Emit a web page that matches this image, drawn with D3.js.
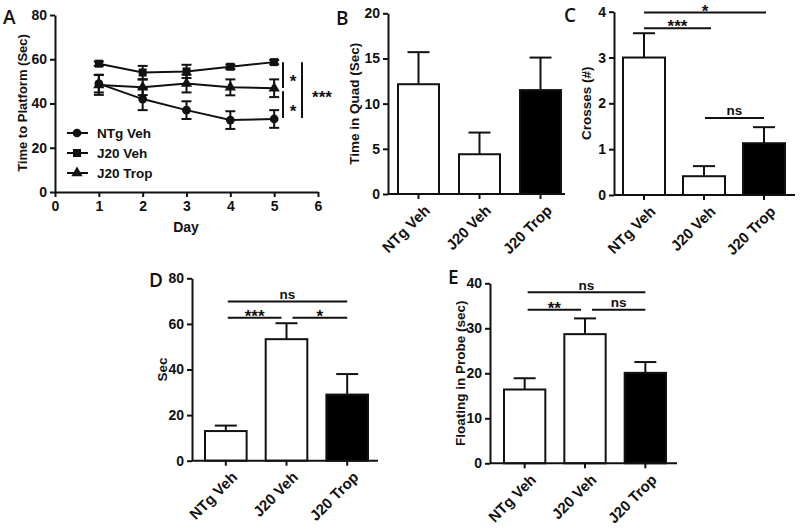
<!DOCTYPE html>
<html><head><meta charset="utf-8">
<script src="https://cdn.jsdelivr.net/npm/d3@7"></script>
<style>body{margin:0;background:#fff}text{font-family:"Liberation Sans",Arial,sans-serif;font-weight:bold;fill:#111}</style>
</head><body><svg id="c" width="800" height="529" style="display:block"></svg>
<script>
// ---- Data ----
const days = [1, 2, 3, 4, 5];
const dayTicks = [0, 1, 2, 3, 4, 5, 6];
const platformTicks = [0, 20, 40, 60, 80];
const ntgVehMean = [49, 42, 37, 32.5, 33];
const ntgVehErr = [4, 5, 4, 4, 4];
const j20VehMean = [58, 54, 54.5, 56.6, 58.7];
const j20VehErr = [1, 3, 3, 1, 1];
const j20TropMean = [48.4, 47.3, 49, 47.3, 46.9];
const j20TropErr = [4.5, 3.5, 4, 3.6, 4];
const seriesNames = ["NTg Veh", "J20 Veh", "J20 Trop"];

const groups = ["NTg Veh", "J20 Veh", "J20 Trop"];
const quadMean = [12.15, 4.4, 11.5];
const quadErr = [3.55, 2.4, 3.6];
const quadTicks = [0, 5, 10, 15, 20];
const crossMean = [3.0, 0.41, 1.13];
const crossErr = [0.53, 0.22, 0.35];
const crossTicks = [0, 1, 2, 3, 4];
const secMean = [13.0, 53.3, 29.0];
const secErr = [2.4, 7.0, 9.0];
const secTicks = [0, 20, 40, 60, 80];
const floatMean = [16.4, 28.7, 20.1];
const floatErr = [2.5, 3.5, 2.4];
const floatTicks = [0, 10, 20, 30, 40];
const barFills = ["#fff", "#fff", "#000"];

const svg = d3.select("#c");
const SW = 2;
const fmt = d3.format("d");

function letter(t, x, y) {
  svg.append("text").attr("x", x).attr("y", y).text(t)
    .style("font-family", "'Open Sans',sans-serif").style("font-weight", "600").style("font-size", "19px");
}

function styleAxis(g) {
  g.selectAll("path,line").attr("stroke", "#111").attr("stroke-width", SW);
  g.selectAll("text").style("font-size", "14px").style("fill", "#111");
}

// place a significance label by its visual centre
function sigText(xx, cy, t) {
  const isNs = t === "ns";
  svg.append("text").attr("x", xx).attr("y", isNs ? cy + 3.5 : cy + 9.6)
    .attr("text-anchor", "middle").style("font-size", isNs ? "13.5px" : "17px").text(t);
}

// ---- Panel A ----
(function () {
  const x = d3.scaleLinear().domain([0, 6]).range([55, 318]);
  const y = d3.scaleLinear().domain([0, 80]).range([192, 15]);
  const gy = svg.append("g").attr("transform", "translate(55,0)")
    .call(d3.axisLeft(y).tickValues(platformTicks).tickFormat(fmt).tickSize(5).tickSizeOuter(0).tickPadding(3));
  styleAxis(gy);
  const gx = svg.append("g").attr("transform", "translate(0,192)")
    .call(d3.axisBottom(x).tickValues(dayTicks).tickFormat(fmt).tickSize(5).tickSizeOuter(0).tickPadding(4));
  styleAxis(gx);
  svg.append("text").attr("transform", "translate(27,103) rotate(-90)").attr("text-anchor", "middle")
    .style("font-size", "13px").text("Time to Platform (Sec)");
  svg.append("text").attr("x", 186).attr("y", 232).attr("text-anchor", "middle")
    .style("font-size", "14px").text("Day");

  const series = [
    {name: seriesNames[0], m: ntgVehMean, e: ntgVehErr, sym: d3.symbolCircle, size: 60},
    {name: seriesNames[1], m: j20VehMean, e: j20VehErr, sym: d3.symbolSquare, size: 64},
    {name: seriesNames[2], m: j20TropMean, e: j20TropErr, sym: d3.symbolTriangle, size: 55}
  ];
  const line = d3.line().x((d, i) => x(days[i])).y(d => y(d));
  series.forEach(s => {
    svg.append("path").attr("d", line(s.m)).attr("fill", "none").attr("stroke", "#111").attr("stroke-width", SW);
    const g = svg.append("g");
    s.m.forEach((v, i) => {
      const cx = x(days[i]);
      g.append("line").attr("x1", cx).attr("x2", cx).attr("y1", y(v - s.e[i])).attr("y2", y(v + s.e[i]))
        .attr("stroke", "#111").attr("stroke-width", SW);
      [v - s.e[i], v + s.e[i]].forEach(w => g.append("line").attr("x1", cx - 5).attr("x2", cx + 5)
        .attr("y1", y(w)).attr("y2", y(w)).attr("stroke", "#111").attr("stroke-width", SW));
      g.append("path").attr("d", d3.symbol().type(s.sym).size(s.size)())
        .attr("transform", `translate(${cx},${y(v)})`).attr("fill", "#111");
    });
  });
  // legend
  series.forEach((s, i) => {
    const ly = 133 + i * 20;
    svg.append("line").attr("x1", 67).attr("x2", 88).attr("y1", ly).attr("y2", ly)
      .attr("stroke", "#111").attr("stroke-width", SW);
    svg.append("path").attr("d", d3.symbol().type(s.sym).size(s.size)())
      .attr("transform", `translate(77,${ly})`).attr("fill", "#111");
    svg.append("text").attr("x", 97).attr("y", ly + 5).style("font-size", "13.5px").text(s.name);
  });
  // significance
  const vl = (xx, y1, y2) => svg.append("line").attr("x1", xx).attr("x2", xx).attr("y1", y1).attr("y2", y2)
    .attr("stroke", "#111").attr("stroke-width", SW);
  vl(283, y(58.7), y(47));
  vl(283, y(45.5), y(33.5));
  vl(302, y(58.7), y(33.5));
  sigText(293, 77, "*");
  sigText(293, 107, "*");
  sigText(322, 93, "***");
  letter("A", 3, 24);
})();

// ---- Bar panels ----
function barPanel(c) {
  const y = d3.scaleLinear().domain([0, c.ticks[c.ticks.length - 1]]).range([c.y0, c.yTop]);
  const x = d3.scaleBand().domain(groups).range([c.b0, c.b1]).paddingInner(c.pad).paddingOuter(0);
  const bw = x.bandwidth();
  c.mean.forEach((v, i) => {
    const cx = x(groups[i]) + bw / 2;
    svg.append("line").attr("x1", cx).attr("x2", cx).attr("y1", y(v)).attr("y2", y(v + c.err[i]))
      .attr("stroke", "#111").attr("stroke-width", SW);
    svg.append("line").attr("x1", cx - 11).attr("x2", cx + 11).attr("y1", y(v + c.err[i])).attr("y2", y(v + c.err[i]))
      .attr("stroke", "#111").attr("stroke-width", SW);
    svg.append("rect").attr("x", x(groups[i])).attr("y", y(v)).attr("width", bw).attr("height", y(0) - y(v))
      .attr("fill", barFills[i]).attr("stroke", "#111").attr("stroke-width", SW);
  });
  const gy = svg.append("g").attr("transform", `translate(${c.ax},0)`)
    .call(d3.axisLeft(y).tickValues(c.ticks).tickFormat(fmt).tickSize(5).tickSizeOuter(0).tickPadding(3));
  styleAxis(gy);
  svg.append("line").attr("x1", c.ax).attr("x2", c.xEnd).attr("y1", c.y0).attr("y2", c.y0)
    .attr("stroke", "#111").attr("stroke-width", SW);
  groups.forEach((gname, i) => {
    const cx = x(gname) + bw / 2;
    svg.append("line").attr("x1", cx).attr("x2", cx).attr("y1", c.y0).attr("y2", c.y0 + 5)
      .attr("stroke", "#111").attr("stroke-width", SW);
    svg.append("text").attr("transform", `translate(${cx + 5},${c.y0 + 10}) rotate(-45)`)
      .attr("text-anchor", "end").attr("dy", "0.7em").style("font-size", "15px").text(gname);
  });
  svg.append("text").attr("transform", `translate(${c.lx},${(c.y0 + c.yTop) / 2}) rotate(-90)`)
    .attr("text-anchor", "middle").style("font-size", "13.5px").text(c.label);
  (c.sig || []).forEach(s => {
    const x1 = x(groups[s.a]) + bw / 2 + s.da, x2 = x(groups[s.b]) + bw / 2 + s.db, yy = y(s.v);
    svg.append("line").attr("x1", x1).attr("x2", x2).attr("y1", yy).attr("y2", yy)
      .attr("stroke", "#111").attr("stroke-width", SW);
    sigText((x1 + x2) / 2, yy - (s.t === "ns" ? 6.3 : 5.6), s.t);
  });
  letter(c.letter, c.lpx, c.lpy);
}

barPanel({ax: 388, xEnd: 565, y0: 194, yTop: 13.3, ticks: quadTicks, b0: 398, b1: 561, pad: 20 / 61,
  mean: quadMean, err: quadErr, label: "Time in Quad (Sec)", lx: 359, letter: "B", lpx: 336, lpy: 25});
barPanel({ax: 614, xEnd: 795, y0: 195, yTop: 11.7, ticks: crossTicks, b0: 623, b1: 785, pad: 18 / 60,
  mean: crossMean, err: crossErr, label: "Crosses (#)", lx: 591, letter: "C", lpx: 564, lpy: 22,
  sig: [{a: 0, b: 2, da: 0, db: 2, v: 3.98, t: "*"}, {a: 0, b: 1, da: 0, db: 7, v: 3.64, t: "***"},
        {a: 1, b: 2, da: 1, db: 0, v: 1.68, t: "ns"}]});
barPanel({ax: 192, xEnd: 378, y0: 460.7, yTop: 278.3, ticks: secTicks, b0: 205, b1: 368, pad: 19 / 60.5,
  mean: secMean, err: secErr, label: "Sec", lx: 167, letter: "D", lpx: 149, lpy: 287,
  sig: [{a: 0, b: 2, da: 2, db: 0, v: 69.8, t: "ns"}, {a: 0, b: 1, da: 2, db: -5, v: 62.7, t: "***"},
        {a: 1, b: 2, da: 6, db: 0, v: 62.7, t: "*"}]});
barPanel({ax: 490, xEnd: 677, y0: 463.3, yTop: 283.3, ticks: floatTicks, b0: 504, b1: 666, pad: 19 / 60.3,
  mean: floatMean, err: floatErr, label: "Floating in Probe (sec)", lx: 465, letter: "E", lpx: 448, lpy: 284,
  sig: [{a: 0, b: 2, da: 3, db: 0, v: 38, t: "ns"}, {a: 0, b: 1, da: 3, db: -4, v: 34.1, t: "**"},
        {a: 1, b: 2, da: 7, db: 0, v: 34.1, t: "ns"}]});
</script></body></html>
